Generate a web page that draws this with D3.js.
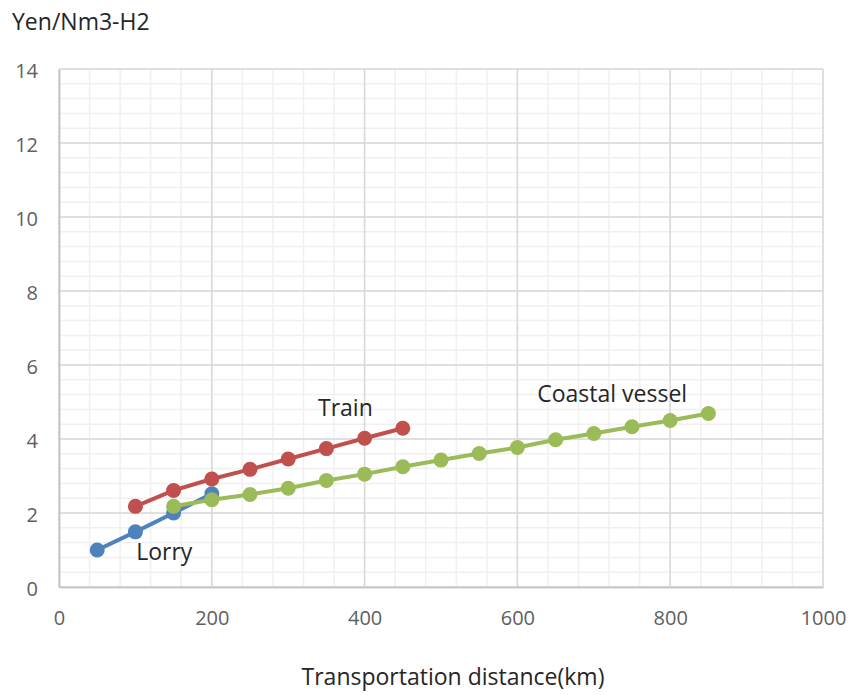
<!DOCTYPE html>
<html>
<head>
<meta charset="utf-8">
<script src="https://cdn.jsdelivr.net/npm/d3@7"></script>
<style>
  body { margin: 0; background: #fff; }
  text { font-family: "Open Sans", "Noto Sans", sans-serif; }
</style>
</head>
<body>
<svg id="drawing_region"></svg>
<script>
// distances (km) and costs (Yen/Nm3-H2)
const lorry_x = [50, 100, 150, 200];
const lorry_y = [1.0, 1.49, 2.0, 2.52];
const train_x = [100, 150, 200, 250, 300, 350, 400, 450];
const train_y = [2.18, 2.61, 2.92, 3.18, 3.46, 3.74, 4.02, 4.29];
const vessel_x = [150, 200, 250, 300, 350, 400, 450, 500, 550, 600, 650, 700, 750, 800, 850];
const vessel_y = [2.18, 2.36, 2.5, 2.67, 2.88, 3.05, 3.25, 3.43, 3.61, 3.77, 3.98, 4.15, 4.33, 4.5, 4.69];
const x_ticks = [0, 200, 400, 600, 800, 1000];
const y_ticks = [0, 2, 4, 6, 8, 10, 12, 14];

const series = [
    { name: 'Lorry', xs: lorry_x, ys: lorry_y, color: '#4F81BD' },
    { name: 'Train', xs: train_x, ys: train_y, color: '#C0504D' },
    { name: 'Coastal vessel', xs: vessel_x, ys: vessel_y, color: '#9BBB59' }
];

const width = 852, height = 695;
const margin = { top: 69, right: 29, bottom: 108, left: 59 };

const svg = d3.select('#drawing_region')
    .attr('width', width)
    .attr('height', height);

const inner_width = width - margin.left - margin.right;
const inner_height = height - margin.top - margin.bottom;

const chart = svg.append('g')
    .attr('transform', `translate(${margin.left}, ${margin.top})`);

const xscale = d3.scaleLinear().domain([0, 1000]).range([0, inner_width]);
const yscale = d3.scaleLinear().domain([0, 14]).range([inner_height, 0]);

// minor grid
chart.append('g').selectAll('line')
    .data(d3.range(0, 1000.1, 40))
    .join('line')
    .attr('x1', d => xscale(d)).attr('x2', d => xscale(d))
    .attr('y1', 0).attr('y2', inner_height)
    .attr('stroke', '#f0f0f0').attr('stroke-width', 1.5);
chart.append('g').selectAll('line')
    .data(d3.range(0, 14.01, 0.4))
    .join('line')
    .attr('x1', 0).attr('x2', inner_width)
    .attr('y1', d => yscale(d)).attr('y2', d => yscale(d))
    .attr('stroke', '#f0f0f0').attr('stroke-width', 1.5);

// major grid
chart.append('g').selectAll('line')
    .data(x_ticks)
    .join('line')
    .attr('x1', d => xscale(d)).attr('x2', d => xscale(d))
    .attr('y1', 0).attr('y2', inner_height)
    .attr('stroke', '#d9d9d9').attr('stroke-width', 1.5);
chart.append('g').selectAll('line')
    .data(y_ticks)
    .join('line')
    .attr('x1', 0).attr('x2', inner_width)
    .attr('y1', d => yscale(d)).attr('y2', d => yscale(d))
    .attr('stroke', '#d9d9d9').attr('stroke-width', 1.5);

// axes
const xaxis = d3.axisBottom(xscale).tickValues(x_ticks).tickFormat(d3.format('d'))
    .tickSize(0).tickPadding(24);
const yaxis = d3.axisLeft(yscale).tickValues(y_ticks).tickFormat(d3.format('d'))
    .tickSize(0).tickPadding(21);

const xaxis_group = chart.append('g')
    .attr('transform', `translate(0, ${inner_height})`)
    .call(xaxis);
const yaxis_group = chart.append('g').call(yaxis);

[xaxis_group, yaxis_group].forEach(g => {
    g.select('.domain').attr('stroke', '#c8c8c8').attr('stroke-width', 2);
    g.selectAll('text')
        .attr('fill', '#606060')
        .style('font-size', '20px')
        .style('font-family', '"Open Sans", sans-serif');
});
yaxis_group.selectAll('text').attr('dy', '0.42em');

// lines and markers
const line = d3.line().x(d => xscale(d[0])).y(d => yscale(d[1]));

series.forEach(s => {
    const pts = s.xs.map((x, i) => [x, s.ys[i]]);
    const g = chart.append('g');
    g.append('path')
        .datum(pts)
        .attr('d', line)
        .attr('fill', 'none')
        .attr('stroke', s.color)
        .attr('stroke-width', 4);
    g.selectAll('circle')
        .data(pts)
        .join('circle')
        .attr('cx', d => xscale(d[0]))
        .attr('cy', d => yscale(d[1]))
        .attr('r', 7.5)
        .attr('fill', s.color);
});

// series labels (left edge of text)
const labels = [
    { text: 'Lorry', x: 101, y: 0.73 },
    { text: 'Train', x: 339, y: 4.62 },
    { text: 'Coastal vessel', x: 626, y: 5.0 }
];
chart.selectAll('.series-label')
    .data(labels)
    .join('text')
    .attr('class', 'series-label')
    .attr('x', d => xscale(d.x))
    .attr('y', d => yscale(d.y))
    .attr('fill', '#262626')
    .style('font-size', '23px')
    .text(d => d.text);

// axis titles
svg.append('text')
    .attr('x', 12).attr('y', 30)
    .attr('fill', '#262626')
    .style('font-size', '23px')
    .text('Yen/Nm3-H2');

svg.append('text')
    .attr('x', 453).attr('y', 685)
    .attr('text-anchor', 'middle')
    .attr('fill', '#262626')
    .style('font-size', '23px')
    .text('Transportation distance(km)');
</script>
</body>
</html>
